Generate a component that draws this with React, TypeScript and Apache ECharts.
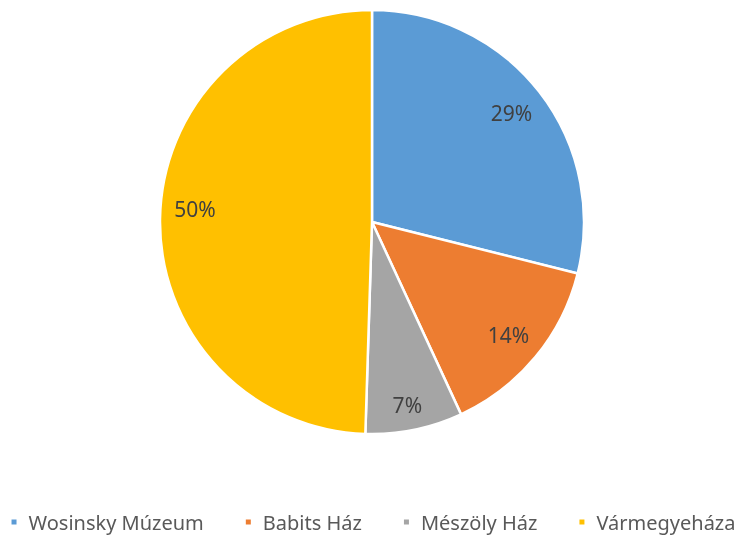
import React, { useEffect, useRef } from "react";
import * as echarts from "echarts";

const categories = ["Wosinsky Múzeum", "Babits Ház", "Mészöly Ház", "Vármegyeháza"];
const values = [28.9, 14.2, 7.4, 49.5];
const colors = ["#5B9BD5", "#ED7D31", "#A5A5A5", "#FFC000"];

export default function App() {
  const ref = useRef<HTMLDivElement>(null);
  useEffect(() => {
    const chart = echarts.init(ref.current!, null, { renderer: "svg" });
    const data = categories.map((name, i) => ({ name, value: values[i], itemStyle: { color: colors[i] } }));
    chart.setOption({
      animation: false,
      legend: {
        data: categories,
        left: "center",
        top: 507,
        icon: "rect",
        itemWidth: 7,
        itemHeight: 7,
        itemGap: 40,
        textStyle: { fontFamily: "Noto Sans", fontSize: 20, color: "#595959", padding: [0, 0, 0, 6] },
      },
      series: [
        {
          type: "pie",
          center: [372, 222],
          radius: [0, 212],
          startAngle: 90,
          clockwise: true,
          data,
          itemStyle: { borderColor: "#ffffff", borderWidth: 2.5 },
          label: { show: false },
          labelLine: { show: false },
          emphasis: { disabled: true },
        },
        {
          type: "pie",
          center: [372, 222],
          radius: [136, 212],
          startAngle: 90,
          clockwise: true,
          silent: true,
          percentPrecision: 0,
          data: categories.map((name, i) => ({
            name,
            value: values[i],
            itemStyle: { color: "transparent" },
            label: i === 3 ? { offset: [0, -10] } : i === 2 ? { offset: [0, 10] } : {},
          })),
          itemStyle: { color: "transparent" },
          label: {
            show: true,
            position: "inside",
            formatter: "{d}%",
            fontFamily: "Noto Sans",
            fontSize: 21,
            color: "#404040",
          },
          labelLine: { show: false },
          emphasis: { disabled: true },
        },
      ],
    });
    return () => chart.dispose();
  }, []);
  return <div ref={ref} style={{ position: "fixed", left: 0, top: 0, width: 745, height: 539 }} />;
}
